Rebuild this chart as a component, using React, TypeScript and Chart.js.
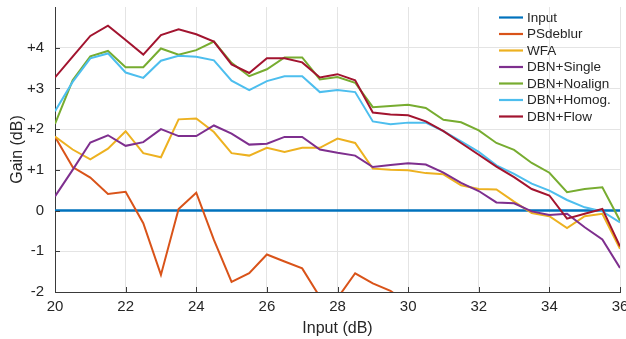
import React, { useEffect, useRef } from "react";
import { Chart, registerables } from "chart.js";

Chart.register(...registerables);

const inputDb = [20, 20.5, 21, 21.5, 22, 22.5, 23, 23.5, 24, 24.5, 25, 25.5, 26, 26.5, 27, 27.5, 28, 28.5, 29, 29.5, 30, 30.5, 31, 31.5, 32, 32.5, 33, 33.5, 34, 34.5, 35, 35.5, 36];

const inputGain = [0, 0, 0, 0, 0, 0, 0, 0, 0, 0, 0, 0, 0, 0, 0, 0, 0, 0, 0, 0, 0, 0, 0, 0, 0, 0, 0, 0, 0, 0, 0, 0, 0];
const psdeblur = [1.81, 1.07, 0.81, 0.41, 0.46, -0.31, -1.58, 0.04, 0.44, -0.72, -1.75, -1.54, -1.08, -1.25, -1.42, -2.12, -2.15, -1.54, -1.79, -1.97, -2.3, null, null, null, null, null, null, null, null, null, null, null, null];
const wfa = [1.82, 1.5, 1.26, 1.52, 1.95, 1.41, 1.31, 2.24, 2.26, 1.93, 1.41, 1.35, 1.54, 1.44, 1.54, 1.54, 1.77, 1.66, 1.03, 1.0, 0.99, 0.92, 0.89, 0.62, 0.53, 0.52, 0.22, -0.06, -0.14, -0.43, -0.14, -0.08, -0.94];
const dbnSingle = [0.35, 1.0, 1.67, 1.85, 1.59, 1.68, 2.0, 1.83, 1.83, 2.09, 1.89, 1.62, 1.64, 1.81, 1.81, 1.5, 1.42, 1.35, 1.07, 1.12, 1.16, 1.13, 0.93, 0.68, 0.48, 0.2, 0.18, -0.02, -0.11, -0.08, -0.41, -0.71, -1.41];
const dbnNoalign = [2.13, 3.2, 3.79, 3.92, 3.52, 3.52, 3.98, 3.83, 3.94, 4.15, 3.63, 3.3, 3.47, 3.76, 3.76, 3.22, 3.28, 3.14, 2.54, 2.57, 2.6, 2.52, 2.23, 2.17, 1.97, 1.66, 1.49, 1.17, 0.93, 0.45, 0.53, 0.57, -0.25];
const dbnHomog = [2.44, 3.16, 3.74, 3.86, 3.39, 3.26, 3.68, 3.8, 3.78, 3.69, 3.19, 2.96, 3.18, 3.3, 3.3, 2.91, 2.96, 2.91, 2.19, 2.12, 2.16, 2.16, 1.95, 1.7, 1.44, 1.11, 0.9, 0.66, 0.49, 0.26, 0.08, -0.02, -0.29];
const dbnFlow = [3.27, 3.78, 4.29, 4.54, 4.19, 3.83, 4.31, 4.45, 4.33, 4.15, 3.59, 3.38, 3.74, 3.74, 3.64, 3.27, 3.35, 3.2, 2.41, 2.36, 2.34, 2.19, 1.95, 1.66, 1.37, 1.08, 0.82, 0.53, 0.37, -0.2, -0.08, 0.04, -0.88];

const seriesNames = ["Input", "PSdeblur", "WFA", "DBN+Single", "DBN+Noalign", "DBN+Homog.", "DBN+Flow"];
const seriesValues = [inputGain, psdeblur, wfa, dbnSingle, dbnNoalign, dbnHomog, dbnFlow];
const seriesColors = ["#0072BD", "#D95319", "#EDB120", "#7E2F8E", "#77AC30", "#4DBEEE", "#A2142F"];
const seriesWidths = [2.6, 2, 2, 2, 2, 2, 2];

const xTicks = [20, 22, 24, 26, 28, 30, 32, 34, 36];
const yTicks = [-2, -1, 0, 1, 2, 3, 4];

const FONT = "'Liberation Sans', Arial, Helvetica, sans-serif";
const TEXT = "#262626";

const legendPlugin = {
  id: "innerLegend",
  afterDraw(chart: any) {
    const ctx = chart.ctx;
    ctx.save();
    ctx.font = `13.5px ${FONT}`;
    ctx.textBaseline = "middle";
    ctx.textAlign = "left";
    chart.data.datasets.forEach((ds: any, i: number) => {
      const y = 17.5 + i * 16.5;
      ctx.strokeStyle = ds.borderColor;
      ctx.lineWidth = 2.2;
      ctx.beginPath();
      ctx.moveTo(499, y);
      ctx.lineTo(523, y);
      ctx.stroke();
      ctx.fillStyle = TEXT;
      ctx.fillText(ds.label, 527, y + 0.5);
    });
    ctx.restore();
  },
};

const tickMarkPlugin = {
  id: "innerTicks",
  afterDatasetsDraw(chart: any) {
    const ctx = chart.ctx;
    const xs = chart.scales.x;
    const ys = chart.scales.y;
    const area = chart.chartArea;
    ctx.save();
    ctx.strokeStyle = "#3a3a3a";
    ctx.lineWidth = 1;
    ctx.beginPath();
    xTicks.forEach((v) => {
      const px = Math.round(xs.getPixelForValue(v)) + 0.5;
      ctx.moveTo(px, area.bottom);
      ctx.lineTo(px, area.bottom - 5);
    });
    yTicks.forEach((v) => {
      const py = Math.round(ys.getPixelForValue(v)) + 0.5;
      ctx.moveTo(area.left, py);
      ctx.lineTo(area.left + 5, py);
    });
    ctx.stroke();
    ctx.restore();
  },
};

export default function App() {
  const canvasRef = useRef<HTMLCanvasElement | null>(null);

  useEffect(() => {
    if (!canvasRef.current) return;
    const n = seriesNames.length;
    const chart = new Chart(canvasRef.current, {
      type: "line",
      data: {
        datasets: seriesNames.map((name, i) => ({
          label: name,
          data: seriesValues[i].map((v, j) => ({ x: inputDb[j], y: v })),
          borderColor: seriesColors[i],
          backgroundColor: seriesColors[i],
          borderWidth: seriesWidths[i],
          pointRadius: 0,
          tension: 0,
          spanGaps: false,
          order: n - i,
        })),
      },
      options: {
        animation: false,
        responsive: false,
        maintainAspectRatio: false,
        layout: { padding: { left: 0, top: 7, right: 6, bottom: 0 } },
        plugins: {
          legend: { display: false },
          tooltip: { enabled: false },
        },
        scales: {
          x: {
            type: "linear",
            min: 20,
            max: 36,
            afterFit: (s: any) => {
              s.height = 47;
              s.paddingLeft = 0;
              s.paddingRight = 0;
            },
            ticks: {
              stepSize: 2,
              color: TEXT,
              font: { family: FONT, size: 15 },
              padding: 6,
              maxRotation: 0,
            },
            grid: { color: "#e4e4e4", lineWidth: 1, drawTicks: false },
            border: { display: true, color: "#3a3a3a", width: 1 },
            title: {
              display: true,
              text: "Input (dB)",
              color: TEXT,
              font: { family: FONT, size: 16 },
              padding: { top: 0, bottom: 1 },
            },
          },
          y: {
            type: "linear",
            min: -2,
            max: 5,
            afterFit: (s: any) => {
              s.width = 55;
              s.paddingTop = 0;
              s.paddingBottom = 0;
            },
            ticks: {
              stepSize: 1,
              color: TEXT,
              font: { family: FONT, size: 15 },
              padding: 11,
              callback: (v: any) => (v === 5 ? "" : v > 0 ? "+" + v : String(v)),
            },
            grid: {
              color: (c: any) => (c.tick && c.tick.value === 5 ? "rgba(0,0,0,0)" : "#e4e4e4"),
              lineWidth: 1,
              drawTicks: false,
            },
            border: { display: true, color: "#3a3a3a", width: 1 },
            title: {
              display: true,
              text: "Gain (dB)",
              color: TEXT,
              font: { family: FONT, size: 16 },
              padding: { top: 8, bottom: 0 },
            },
          },
        },
      },
      plugins: [tickMarkPlugin, legendPlugin],
    });
    return () => chart.destroy();
  }, []);

  return (
    <div style={{ position: "fixed", left: 0, top: 0, width: 626, height: 339, background: "#fff" }}>
      <canvas ref={canvasRef} width={626} height={339} style={{ display: "block", width: 626, height: 339 }} />
    </div>
  );
}
